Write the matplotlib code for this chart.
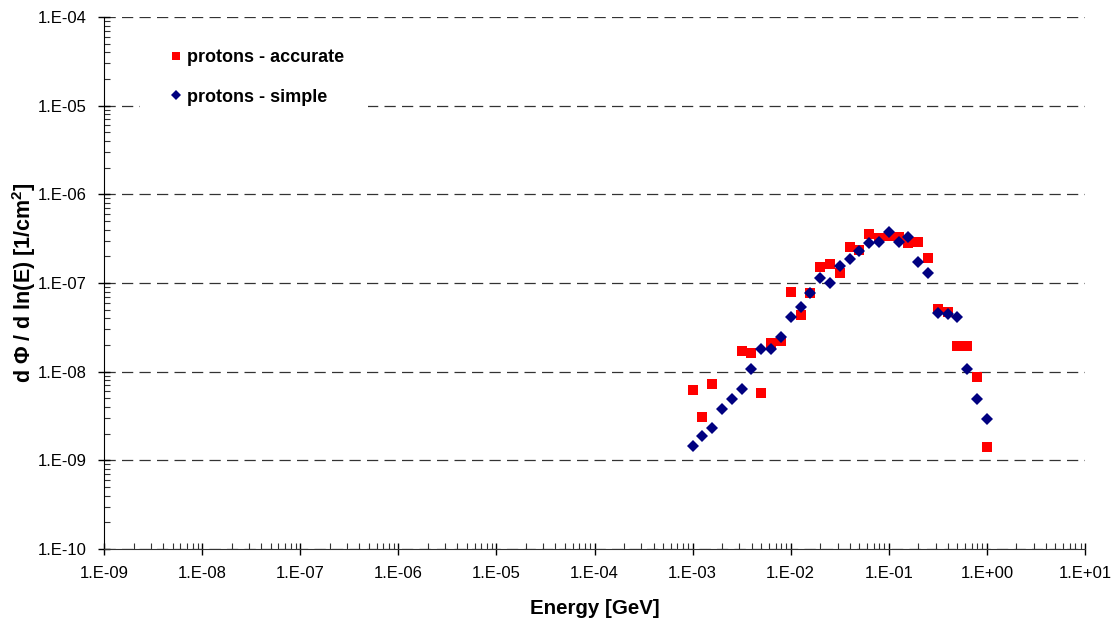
import numpy as np
import matplotlib
matplotlib.use("Agg")
import matplotlib.pyplot as plt
from matplotlib.ticker import LogLocator, FixedLocator, NullFormatter
from matplotlib.patches import Rectangle

plt.rcParams['font.family'] = ['Liberation Sans', 'DejaVu Sans']
plt.rcParams['mathtext.fontset'] = 'custom'
plt.rcParams['mathtext.rm'] = 'Liberation Sans'
plt.rcParams['mathtext.bf'] = 'Liberation Sans:bold'

# Energies (GeV): 10 points per decade from 1e-3 to 1
energy = [1.00e-3, 1.26e-3, 1.58e-3, 2.00e-3, 2.51e-3, 3.16e-3, 3.98e-3, 5.01e-3,
          6.31e-3, 7.94e-3, 1.00e-2, 1.26e-2, 1.58e-2, 2.00e-2, 2.51e-2, 3.16e-2,
          3.98e-2, 5.01e-2, 6.31e-2, 7.94e-2, 1.00e-1, 1.26e-1, 1.58e-1, 2.00e-1,
          2.51e-1, 3.16e-1, 3.98e-1, 5.01e-1, 6.31e-1, 7.94e-1, 1.00e0]

accurate = [6.2e-9, 3.05e-9, 7.3e-9, np.nan, np.nan, 1.71e-8, 1.64e-8, 5.8e-9,
            2.09e-8, 2.24e-8, 7.98e-8, 4.4e-8, 7.65e-8, 1.53e-7, 1.65e-7, 1.31e-7,
            2.53e-7, 2.36e-7, 3.6e-7, 3.22e-7, 3.39e-7, 3.27e-7, 2.8e-7, 2.88e-7,
            1.9e-7, 5.13e-8, 4.71e-8, 1.95e-8, 1.95e-8, 8.65e-9, 1.43e-9]

simple = [1.45e-9, 1.88e-9, 2.3e-9, 3.76e-9, 4.9e-9, 6.3e-9, 1.07e-8, 1.82e-8,
          1.82e-8, 2.44e-8, 4.17e-8, 5.4e-8, 7.8e-8, 1.15e-7, 9.9e-8, 1.57e-7,
          1.85e-7, 2.31e-7, 2.8e-7, 2.9e-7, 3.76e-7, 2.9e-7, 3.27e-7, 1.73e-7,
          1.3e-7, 4.55e-8, 4.5e-8, 4.1e-8, 1.08e-8, 4.9e-9, 2.9e-9]

x_ticks = [1e-9, 1e-8, 1e-7, 1e-6, 1e-5, 1e-4, 1e-3, 1e-2, 1e-1, 1e0, 1e1]
x_labels = ['1.E-09', '1.E-08', '1.E-07', '1.E-06', '1.E-05', '1.E-04',
            '1.E-03', '1.E-02', '1.E-01', '1.E+00', '1.E+01']
y_ticks = [1e-10, 1e-9, 1e-8, 1e-7, 1e-6, 1e-5, 1e-4]
y_labels = ['1.E-10', '1.E-09', '1.E-08', '1.E-07', '1.E-06', '1.E-05', '1.E-04']

W, H = 1117, 618
fig = plt.figure(figsize=(W / 100, H / 100), dpi=100)
ax = fig.add_axes([104 / W, 69 / H, 981 / W, 532 / H])

ax.set_xscale('log')
ax.set_yscale('log')
ax.set_xlim(1e-9, 1e1)
ax.set_ylim(1e-10, 1e-4)

ax.plot(energy, accurate, linestyle='none', marker='s', markersize=6.5,
        color='#ff0000', markeredgewidth=0, label='protons - accurate', zorder=3)
ax.plot(energy, simple, linestyle='none', marker='D', markersize=6,
        color='#000080', markeredgewidth=0, label='protons - simple', zorder=4)

ax.xaxis.set_major_locator(FixedLocator(x_ticks))
ax.set_xticklabels(x_labels)
ax.yaxis.set_major_locator(FixedLocator(y_ticks))
ax.set_yticklabels(y_labels)
ax.xaxis.set_minor_locator(LogLocator(base=10, subs=np.arange(2, 10), numticks=50))
ax.yaxis.set_minor_locator(LogLocator(base=10, subs=np.arange(2, 10), numticks=50))
ax.xaxis.set_minor_formatter(NullFormatter())
ax.yaxis.set_minor_formatter(NullFormatter())

ax.tick_params(which='major', direction='inout', length=9, width=1, color='black',
               labelsize=12, pad=8)
ax.tick_params(which='minor', direction='in', length=4, width=0.8, color='#333333')

for s in ['top', 'right']:
    ax.spines[s].set_visible(False)
ax.spines['left'].set_color('black')
ax.spines['bottom'].set_color('#333333')

ax.yaxis.grid(True, which='major', linestyle=(0, (9, 5)), color='#333333', linewidth=0.9)
ax.set_axisbelow(True)

ax.set_xlabel('Energy [GeV]', fontsize=14.8, fontweight='bold', labelpad=13)
ax.set_ylabel(r'd Φ / d ln(E) [1/cm$^{\mathbf{2}}$]', fontsize=15.5,
              fontweight='bold', labelpad=0)

# white legend area covering the gridline
ax.add_patch(Rectangle((140 / W, 1 - 118 / H), 228 / W, 90 / H,
                       transform=fig.transFigure, facecolor='white',
                       edgecolor='none', zorder=1.5))

leg = ax.legend(loc='upper left', bbox_to_anchor=(158 / W, 1 - 40 / H),
                bbox_transform=fig.transFigure, frameon=False,
                prop={'size': 13, 'weight': 'bold'}, borderpad=0,
                handlelength=1.0, handletextpad=0.11, labelspacing=1.25,
                markerscale=0.9)

fig.savefig('out.png', dpi=100, facecolor='white')
